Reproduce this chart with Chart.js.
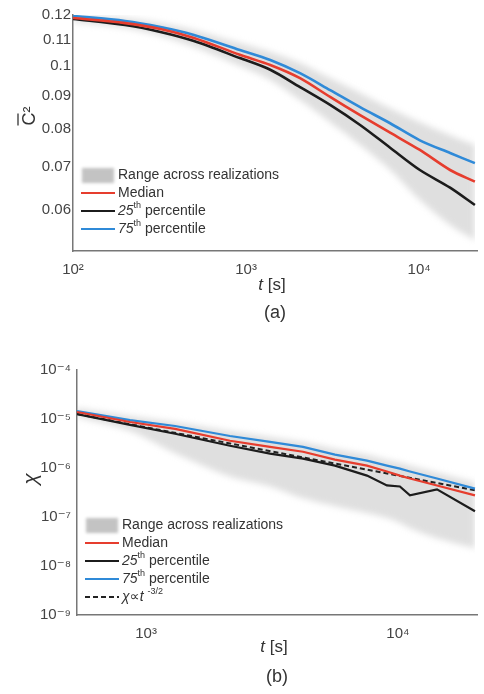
<!DOCTYPE html>
<html>
<head>
<meta charset="utf-8">
<script src="https://cdn.jsdelivr.net/npm/chart.js@4.4.1/dist/chart.umd.min.js"></script>
<style>
  html, body { margin: 0; padding: 0; background: #fff; }
  canvas { display: block; }
</style>
</head>
<body>
<canvas id="chartA" width="484" height="340"></canvas>
<canvas id="chartB" width="484" height="354"></canvas>
<script>
// (a) scalar variance vs time
var timeA = [100, 200, 320, 500, 920, 1380, 2050, 3060, 4560, 6800, 10100, 15100, 21000];
var c2Median = [0.1187, 0.1166, 0.1142, 0.1106, 0.1042, 0.1005, 0.0959, 0.0897, 0.0841, 0.0790, 0.0743, 0.0692, 0.0664];
var c2P25 = [0.1183, 0.1158, 0.1130, 0.1094, 0.1030, 0.0988, 0.0929, 0.0872, 0.0812, 0.0749, 0.0692, 0.0650, 0.0611];
var c2P75 = [0.1196, 0.1175, 0.1150, 0.1118, 0.1060, 0.1023, 0.0976, 0.0919, 0.0865, 0.0817, 0.0769, 0.0735, 0.0709];
var c2Max = [0.1200, 0.1187, 0.1166, 0.1138, 0.1086, 0.1052, 0.1012, 0.0959, 0.0910, 0.0862, 0.0820, 0.0783, 0.0756];
var c2Min = [0.1171, 0.1146, 0.1114, 0.1071, 0.1001, 0.0953, 0.0887, 0.0820, 0.0756, 0.0692, 0.0622, 0.0569, 0.0539];
var yTicksA = [0.06, 0.07, 0.08, 0.09, 0.1, 0.11, 0.12];
var xTicksA = [100, 1000, 10000];

// (b) dissipation rate vs time
var timeB = [532, 864, 1304, 2154, 3105, 4198, 5623, 7536, 9040, 10180, 11160, 14290, 20220];
var chiMedian = [1.39e-5, 8.7e-6, 6.3e-6, 3.6e-6, 2.7e-6, 2.15e-6, 1.48e-6, 1.12e-6, 8.5e-7, 7.0e-7, 6.1e-7, 4.4e-7, 2.76e-7];
var chiP25 = [1.26e-5, 7.6e-6, 5.0e-6, 2.84e-6, 1.96e-6, 1.55e-6, 1.12e-6, 7.0e-7, 4.4e-7, 4.2e-7, 2.76e-7, 3.66e-7, 1.31e-7];
var chiP75 = [1.45e-5, 9.5e-6, 7.2e-6, 4.5e-6, 3.4e-6, 2.7e-6, 1.87e-6, 1.41e-6, 1.12e-6, 9.7e-7, 8.5e-7, 6.1e-7, 3.8e-7];
var chiMax = [1.67e-5, 1.15e-5, 8.7e-6, 5.7e-6, 4.3e-6, 3.4e-6, 2.47e-6, 1.87e-6, 1.48e-6, 1.29e-6, 1.12e-6, 8.1e-7, 5.1e-7];
var chiMin = [1.10e-5, 5.7e-6, 2.0e-6, 6.7e-7, 4.2e-7, 2.4e-7, 1.66e-7, 1.19e-7, 9.5e-8, 7.5e-8, 5.9e-8, 3.7e-8, 2.3e-8];
var scalingTime = [532, 20220];
var scalingChi = [1.26e-5, 3.5e-7];
var yTicksB = [1e-9, 1e-8, 1e-7, 1e-6, 1e-5, 1e-4];
var xTicksB = [1000, 10000];

var FONT = '"Liberation Sans", Arial, "DejaVu Sans", sans-serif';
var RED = '#e63d2e', BLUE = '#2f8ad8', BLACK = '#1c1c1c', BAND = 'rgba(185,185,185,0.45)';

Chart.defaults.font.family = FONT;
Chart.defaults.color = '#444';

function pts(xs, ys) {
    return xs.map(function (x, i) { return { x: x, y: ys[i] }; });
}

var SUP = { '0': '⁰', '1': '¹', '2': '²', '3': '³', '4': '⁴', '5': '⁵', '6': '⁶', '7': '⁷', '8': '⁸', '9': '⁹', '-': '⁻' };
function pow10Label(v) {
    var e = String(Math.round(Math.log10(v)));
    return '10' + e.split('').map(function (c) { return SUP[c]; }).join('');
}

// draws "*italic*" and "^{superscript}" pieces left to right
function richText(ctx, str, x, y, size) {
    var parts = str.split(/(\*[^*]*\*|\^\{[^}]*\})/).filter(function (p) { return p.length; });
    parts.forEach(function (p) {
        var txt = p, font = size + 'px ' + FONT, dy = 0;
        if (p[0] === '*') { txt = p.slice(1, -1); font = 'italic ' + size + 'px ' + FONT; }
        else if (p[0] === '^') { txt = p.slice(2, -1); font = Math.round(size * 0.62) + 'px ' + FONT; dy = -size * 0.38; }
        ctx.font = font;
        ctx.fillText(txt, x, y + dy);
        x += ctx.measureText(txt).width;
    });
}

// soft edges on the realization range band
var softBand = {
    id: 'softBand',
    beforeDatasetsDraw: function (chart) {
        chart.ctx.save();
        chart.ctx.filter = 'blur(3px)';
        chart.$blurOn = true;
    },
    beforeDatasetDraw: function (chart, args) {
        if (chart.$blurOn && !chart.data.datasets[args.index].isBand) {
            chart.ctx.restore();
            chart.$blurOn = false;
        }
    },
    afterDatasetsDraw: function (chart) {
        if (chart.$blurOn) { chart.ctx.restore(); chart.$blurOn = false; }
    }
};

// legend inside the plot, bottom left
var insideLegend = {
    id: 'insideLegend',
    afterDraw: function (chart, args, opts) {
        var ctx = chart.ctx, area = chart.chartArea;
        var x0 = area.left + 8, y = area.bottom - opts.offset;
        ctx.save();
        ctx.textBaseline = 'middle';
        chart.data.datasets.forEach(function (ds) {
            if (!ds.label) return;
            if (ds.isBand) {
                ctx.save();
                ctx.filter = 'blur(1.5px)';
                ctx.fillStyle = 'rgba(170,170,170,0.7)';
                ctx.fillRect(x0 + 1, y - 7, 32, 15);
                ctx.restore();
            } else {
                ctx.save();
                ctx.strokeStyle = ds.borderColor;
                ctx.lineWidth = 2.2;
                ctx.setLineDash(ds.borderDash || []);
                ctx.beginPath();
                ctx.moveTo(x0, y);
                ctx.lineTo(x0 + 34, y);
                ctx.stroke();
                ctx.restore();
            }
            ctx.fillStyle = '#333';
            richText(ctx, ds.label, x0 + 37, y, 14);
            y += 18;
        });
        ctx.restore();
    }
};

// axis titles and panel tag
var axisText = {
    id: 'axisText',
    afterDraw: function (chart, args, opts) {
        var ctx = chart.ctx, area = chart.chartArea;
        var cx = (area.left + area.right) / 2;
        ctx.save();
        ctx.fillStyle = '#333';
        ctx.textBaseline = 'middle';
        ctx.textAlign = 'left';
        ctx.font = 'italic 17px ' + FONT;
        var wt = ctx.measureText('t').width;
        ctx.font = '17px ' + FONT;
        var ws = ctx.measureText(' [s]').width;
        var tx = cx - 3 - (wt + ws) / 2;
        ctx.font = 'italic 17px ' + FONT;
        ctx.fillText('t', tx, area.bottom + opts.titleGap);
        ctx.font = '17px ' + FONT;
        ctx.fillText(' [s]', tx + wt, area.bottom + opts.titleGap);
        ctx.textAlign = 'center';
        ctx.font = '18px ' + FONT;
        ctx.fillText(opts.panel, cx, area.bottom + 62);

        // rotated y title
        ctx.translate(opts.yTitleX, opts.yTitleY);
        ctx.rotate(-Math.PI / 2);
        ctx.textAlign = 'center';
        if (opts.yTitle === 'C2') {
            ctx.font = '18px ' + FONT;
            ctx.fillText('C²', 0, 0);
            var w = ctx.measureText('C²').width;
            ctx.strokeStyle = '#333';
            ctx.lineWidth = 1.3;
            ctx.beginPath();
            ctx.moveTo(-w / 2, -12);
            ctx.lineTo(-w / 2 + 12, -12);
            ctx.stroke();
        } else {
            ctx.font = 'italic 21px ' + FONT;
            ctx.fillText(opts.yTitle, 0, 0);
        }
        ctx.restore();
    }
};

function lineSet(label, xs, ys, color, width, extra) {
    var ds = {
        label: label, data: pts(xs, ys), borderColor: color, backgroundColor: color,
        borderWidth: width, pointRadius: 0, fill: false, order: 0
    };
    return Object.assign(ds, extra || {});
}

// upper edge fills down to the lower edge right after it
function bandSets(xs, hi, lo) {
    return [
        { label: 'Range across realizations', isBand: true, data: pts(xs, hi), borderWidth: 0, borderColor: 'rgba(0,0,0,0)',
          backgroundColor: BAND, pointRadius: 0, fill: '+1', order: 10, tension: 0.3 },
        { label: '', isBand: true, data: pts(xs, lo), borderWidth: 0, borderColor: 'rgba(0,0,0,0)',
          pointRadius: 0, fill: false, order: 10, tension: 0.3 }
    ];
}

function logAxes(cfg) {
    return {
        x: {
            type: 'logarithmic', min: cfg.xMin, max: cfg.xMax,
            grid: { display: false, drawTicks: false },
            border: { display: true, color: '#777', width: 1.5 },
            afterBuildTicks: function (s) { s.ticks = cfg.xTicks.map(function (v) { return { value: v }; }); },
            afterFit: function (s) { s.height = cfg.xHeight; },
            ticks: { padding: 10, autoSkip: false, maxRotation: 0, color: '#444', font: { size: 15 },
                     callback: function (v) { return pow10Label(v); } }
        },
        y: {
            type: 'logarithmic', min: cfg.yMin, max: cfg.yMax,
            grid: { display: false, drawTicks: false },
            border: { display: true, color: '#777', width: 1.5 },
            afterBuildTicks: function (s) { s.ticks = cfg.yTicks.map(function (v) { return { value: v }; }); },
            afterFit: function (s) { s.width = cfg.yWidth; },
            ticks: { padding: cfg.yPad, autoSkip: false, color: '#444', font: { size: 15 }, callback: cfg.yLabel }
        }
    };
}

var common = {
    responsive: false, animation: false, events: [],
    plugins: { legend: { display: false }, tooltip: { enabled: false } }
};

new Chart(document.getElementById('chartA'), {
    type: 'line',
    data: {
        datasets: bandSets(timeA, c2Max, c2Min).concat([
            lineSet('Median', timeA, c2Median, RED, 2.6, { tension: 0.3 }),
            lineSet('*25*^{th} percentile', timeA, c2P25, BLACK, 2.6, { tension: 0.3 }),
            lineSet('*75*^{th} percentile', timeA, c2P75, BLUE, 2.6, { tension: 0.3 })
        ])
    },
    options: Object.assign({}, common, {
        layout: { padding: { top: 15, right: 7, left: 0, bottom: 0 } },
        scales: logAxes({
            xMin: 100, xMax: 21600, xTicks: xTicksA, xHeight: 89,
            yMin: 0.0519, yMax: 0.12, yTicks: yTicksA, yWidth: 73, yPad: 2,
            yLabel: function (v) { return String(Math.round(v * 100) / 100); }
        }),
        plugins: Object.assign({}, common.plugins, {
            insideLegend: { offset: 76 },
            axisText: { panel: '(a)', titleGap: 34, yTitle: 'C2', yTitleX: 30, yTitleY: 116 }
        })
    }),
    plugins: [softBand, insideLegend, axisText]
});

new Chart(document.getElementById('chartB'), {
    type: 'line',
    data: {
        datasets: bandSets(timeB, chiMax, chiMin).concat([
            lineSet('Median', timeB, chiMedian, RED, 2.2),
            lineSet('*25*^{th} percentile', timeB, chiP25, BLACK, 2.2),
            lineSet('*75*^{th} percentile', timeB, chiP75, BLUE, 2.2),
            lineSet('*χ∝t* ^{-3/2}', scalingTime, scalingChi, '#222', 2, { borderDash: [5, 3] })
        ])
    },
    options: Object.assign({}, common, {
        layout: { padding: { top: 30, right: 7, left: 0, bottom: 0 } },
        scales: logAxes({
            xMin: 532, xMax: 20600, xTicks: xTicksB, xHeight: 79,
            yMin: 1e-9, yMax: 1e-4, yTicks: yTicksB, yWidth: 77, yPad: 6,
            yLabel: function (v) { return pow10Label(v); }
        }),
        plugins: Object.assign({}, common.plugins, {
            insideLegend: { offset: 90 },
            axisText: { panel: '(b)', titleGap: 32, yTitle: 'χ', yTitleX: 31, yTitleY: 139 }
        })
    }),
    plugins: [softBand, insideLegend, axisText]
});
</script>
</body>
</html>
